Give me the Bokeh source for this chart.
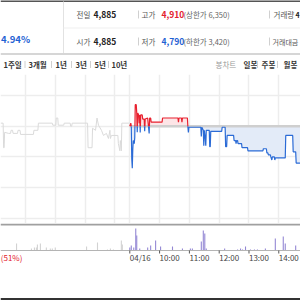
import numpy as np
from bokeh.plotting import figure
from bokeh.layouts import column
from bokeh.models import Range1d, FixedTicker, Grid
from bokeh.core.properties import value
from bokeh.embed import file_html
from bokeh.resources import INLINE

# ---------------- data ----------------
BASE = 4885            # previous close (전일)
SESSION = 390          # minutes in a trading session (09:00-15:30)

# previous day (04/15) intraday price, minutes after 09:00
prev_t = [130, 135, 136, 137, 138, 146, 150, 151, 154, 155, 164, 165, 169, 170, 196, 197, 205, 206,
          234, 235, 241, 242, 245, 246, 257, 258, 270, 271, 273, 274, 305, 306, 314, 315, 321, 324,
          327, 333, 337, 343, 347, 350, 351, 353, 366, 367, 370, 371, 373, 374, 387, 390]
prev_p = [4888, 4888, 4864, 4864, 4879, 4878, 4878, 4881, 4881, 4878, 4878, 4881, 4881, 4877, 4877, 4881, 4881, 4888,
          4888, 4886, 4886, 4893, 4893, 4886, 4886, 4888, 4888, 4885, 4885, 4888, 4888, 4864, 4864, 4883, 4881, 4893,
          4886, 4881, 4876, 4878, 4873, 4881, 4873, 4876, 4876, 4868, 4861, 4871, 4861, 4888, 4888, 4888]

# today (04/16) intraday price, minutes after 09:00
today_t = [0, 2, 3, 4, 5, 6, 7, 9, 10, 11, 13, 14, 15, 16, 18, 19, 20, 21, 22, 25, 26, 29, 30, 31, 36, 39, 40, 42,
           43, 65, 66, 97, 98, 99, 104, 105, 106, 116, 117, 118, 119, 143, 144, 145, 148, 149, 150, 152, 153, 154,
           160, 161, 162, 163, 185, 186, 192, 193, 195, 196, 209, 210, 213, 214, 215, 217, 218, 225, 226, 237, 238,
           268, 269, 275, 276, 278, 279, 283, 284, 286, 287, 291, 292, 293, 313, 314, 328, 329, 334, 335, 344]
today_p = [4885, 4888, 4885, 4853, 4844, 4862, 4871, 4868, 4874, 4906, 4906, 4898, 4879, 4898, 4896, 4888, 4896, 4879,
           4896, 4896, 4892, 4892, 4880, 4892, 4893, 4878, 4893, 4893,
           4889, 4889, 4893, 4893, 4889, 4893, 4893, 4889, 4893, 4893, 4884, 4879, 4884, 4884, 4875, 4884, 4881, 4866,
           4881, 4873, 4866, 4881,
           4881, 4865, 4865, 4880, 4880, 4884, 4884, 4865, 4865, 4876, 4876, 4871, 4871, 4868, 4871, 4871, 4868, 4868,
           4864, 4864, 4861,
           4861, 4863, 4863, 4859, 4859, 4857, 4857, 4855, 4852, 4855, 4855, 4852, 4854, 4854, 4876, 4876, 4860, 4860,
           4849, 4849]

# volume (thousand shares)
prev_vol_t = [162, 192, 198, 202, 204, 210, 222, 230, 234, 240, 303, 325, 345, 351, 357, 373, 375]
prev_vol = [7, 2, 3, 3, 6, 7, 3, 2, 2, 3, 4, 8, 1, 2, 1, 10, 6]
today_vol_t = [0, 3, 8, 12, 14, 20, 36, 42, 52, 62, 86, 106, 122, 126, 144, 148, 151, 154, 191, 217, 223, 227,
               233, 243, 251, 257, 273, 293, 309, 313, 334]
today_vol = [3, 5, 3, 22, 15, 2, 3, 5, 10, 4, 4, 2, 2, 2, 9, 20, 17, 2, 2, 1, 2, 1, 4, 1, 1, 1, 2, 12, 14, 7, 5]

time_labels = ["04/16", "10:00", "11:00", "12:00", "13:00", "14:00"]
time_ticks = [0, 60, 120, 180, 240, 300]          # minutes after 09:00 today
prev_hour_ticks = [180, 240, 300, 360]             # 12:00..15:00 previous day
price_grid = [4795, 4825, 4855, 4885, 4915]

period_labels = ["1주일", "3개월", "1년", "3년", "5년", "10년"]
chart_labels = ["봉차트", "일봉", "주봉", "월봉"]

FONT = "Noto Sans CJK KR"
RED = "#e3202c"
BLUE = "#1f62d3"


def label(f, x, y, s, color="#444", size=7.5, bold=False, align="left"):
    f.text(x=[x], y=[y], text=[s], text_color=color, text_font=value(FONT),
           text_font_size=f"{size}px", text_font_style="bold" if bold else "normal",
           text_align=align, text_baseline="middle")


def base_fig(h, xr, yr):
    f = figure(width=300, height=h, x_range=xr, y_range=yr, output_backend="svg",
               toolbar_location=None, tools="", x_axis_location=None, y_axis_location=None,
               min_border=0, outline_line_color=None, background_fill_color="white",
               border_fill_color="white")
    f.center = [c for c in f.center if not isinstance(c, Grid)]
    return f


# ---------------- header ----------------
hd = base_fig(74, Range1d(0, 300), Range1d(74, 0))
hd.segment(x0=[0], y0=[0.6], x1=[300], y1=[0.6], line_color="#555555", line_width=2)
hd.segment(x0=[63], y0=[1], x1=[63], y1=[53], line_color="#e2e2e2", line_width=1)
hd.segment(x0=[63], y0=[27.5], x1=[300], y1=[27.5], line_color="#efefef", line_width=1)
hd.segment(x0=[0], y0=[53.5], x1=[300], y1=[53.5], line_color="#d6d6d6", line_width=2)
for sx in [138, 269]:
    hd.segment(x0=[sx, sx], y0=[10, 37], x1=[sx, sx], y1=[18, 45], line_color="#d0d0d0", line_width=1)

label(hd, 0.5, 38, "4.94%", BLUE, 9.5, True, "left")
label(hd, 76, 14, "전일", "#555555", 7.5)
label(hd, 93, 14, f"{BASE:,}", "#222222", 8.5, True)
label(hd, 76, 41, "시가", "#555555", 7.5)
label(hd, 93, 41, "4,885", "#222222", 8.5, True)
label(hd, 141, 14, "고가", "#555555", 7.5)
label(hd, 161, 14, "4,910", RED, 8.5, True)
label(hd, 183, 14, "(상한가 6,350)", "#666666", 7.5)
label(hd, 141, 41, "저가", "#555555", 7.5)
label(hd, 161, 41, "4,790", BLUE, 8.5, True)
label(hd, 183, 41, "(하한가 3,420)", "#666666", 7.5)
label(hd, 273, 14, "거래량", "#555555", 7.5)
label(hd, 295, 14, "4", "#222222", 7, True)
label(hd, 272, 41, "거래대금", "#555555", 7)

# toolbar row
px_left = [3, 28, 55, 75, 94, 111]
for s, x in zip(period_labels, px_left):
    label(hd, x, 64, s, "#333333", 7.5, True)
for sx in [24.5, 51, 71, 90, 108]:
    hd.segment(x0=[sx], y0=[60.5], x1=[sx], y1=[67.5], line_color="#d0d0d0", line_width=1)
label(hd, 215, 64, chart_labels[0], "#999999", 7.5)
for s, x in zip(chart_labels[1:], [243, 261, 283]):
    label(hd, x, 64, s, "#333333", 7.5, True)
for sx in [257, 277]:
    hd.segment(x0=[sx], y0=[60.5], x1=[sx], y1=[67.5], line_color="#d0d0d0", line_width=1)

# ---------------- price chart ----------------
xr = Range1d(129.7, 733.7)
pc = base_fig(149, xr, Range1d(4790, 4935.5))
pc.add_layout(Grid(dimension=0, ticker=FixedTicker(ticks=prev_hour_ticks + [SESSION + t for t in time_ticks]),
                   grid_line_color="#ededed", grid_line_width=1.5))
pc.add_layout(Grid(dimension=1, ticker=FixedTicker(ticks=price_grid),
                   grid_line_color="#ededed", grid_line_width=1.5))

t = np.array(today_t, float) + SESSION
pr = np.array(today_p, float)
xs, ys = [t[0]], [pr[0]]
for i in range(1, len(t)):
    a, b = pr[i - 1] - BASE, pr[i] - BASE
    if a * b < 0:
        fr = a / (a - b)
        xs.append(t[i - 1] + fr * (t[i] - t[i - 1]))
        ys.append(BASE)
    xs.append(t[i])
    ys.append(pr[i])
xs = np.array(xs)
ys = np.array(ys)

pc.varea(x=xs, y1=np.full_like(ys, BASE), y2=np.maximum(ys, BASE), fill_color="#fde5e7")
pc.varea(x=xs, y1=np.minimum(ys, BASE), y2=np.full_like(ys, BASE), fill_color="#e3ebf8")
pc.line(x=[SESSION, xr.end], y=[BASE, BASE], line_color="#cfcfcf", line_width=2.5)
pc.line(x=prev_t, y=prev_p, line_color="#dadada", line_width=1)
up = np.where(ys >= BASE, ys, np.nan)
dn = np.where(ys <= BASE, ys, np.nan)
pc.line(x=xs, y=dn, line_color="#2b6bd6", line_width=1.2)
pc.line(x=xs, y=up, line_color="#e8202e", line_width=1.2)

# ---------------- volume ----------------
vc = base_fig(77, xr, Range1d(-50, 27))
vc.vbar(x=prev_vol_t, top=prev_vol, bottom=0, width=2.2, fill_color="#d2d2d2", line_color=None)
vc.vbar(x=[SESSION + v for v in today_vol_t], top=today_vol, bottom=0, width=2.2,
        fill_color="#9488d4", line_color=None)
vc.segment(x0=[xr.start], y0=[26], x1=[xr.end], y1=[26], line_color="#a0a0a0", line_width=2)
vc.segment(x0=[xr.start], y0=[0], x1=[xr.end], y1=[0], line_color="#b4b4b4", line_width=1)
tick_x = [SESSION + v for v in time_ticks]
vc.segment(x0=tick_x, y0=[0] * len(tick_x), x1=tick_x, y1=[-3] * len(tick_x), line_color="#555555", line_width=1)
vc.text(x=tick_x, y=[-7] * len(tick_x), text=time_labels, text_color="#444444", text_font=value(FONT),
        text_font_size="8px", text_align="left", text_baseline="middle")
label(vc, xr.start + 0.5, -7, "(51%)", RED, 8)
vc.segment(x0=[xr.start], y0=[-48.8], x1=[xr.end], y1=[-48.8], line_color="#333333", line_width=2.5)

layout = column(hd, pc, vc, spacing=0)
open("out.html", "w").write(file_html(layout, INLINE))
